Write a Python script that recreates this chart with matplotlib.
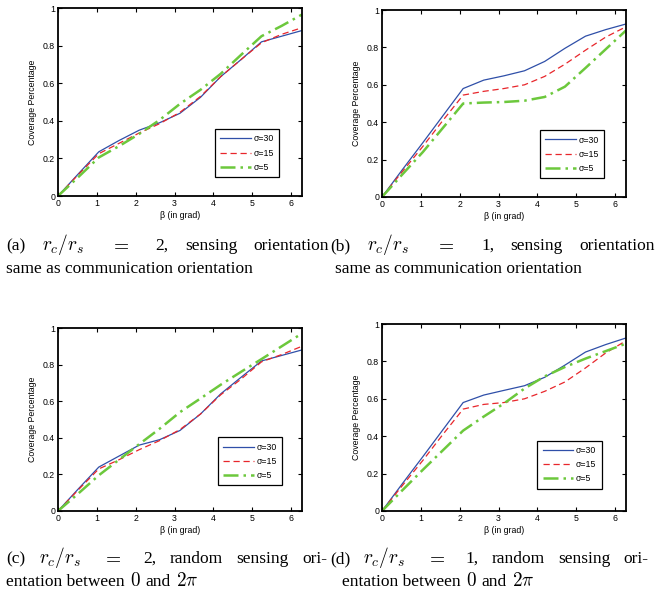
import matplotlib
matplotlib.use("Agg")
import matplotlib.pyplot as plt
import numpy as np

plt.rcParams['mathtext.fontset'] = 'cm'

W, H = 657, 592

# beta grid (rad)
beta = [0, 0.52, 1.05, 1.57, 2.09, 2.62, 3.14, 3.67, 4.19, 4.71, 5.24, 5.76, 6.28]
labels = ["σ=30", "σ=15", "σ=5"]

# (a) rc/rs = 2, same orientation
a_s30 = [0, 0.117, 0.235, 0.295, 0.35, 0.39, 0.44, 0.525, 0.635, 0.725, 0.82, 0.85, 0.88]
a_s15 = [0, 0.113, 0.225, 0.28, 0.335, 0.385, 0.445, 0.53, 0.635, 0.725, 0.815, 0.86, 0.895]
a_s5 = [0, 0.10, 0.205, 0.265, 0.33, 0.405, 0.49, 0.565, 0.65, 0.75, 0.85, 0.905, 0.965]
# (b) rc/rs = 1, same orientation
b_s30 = [0, 0.145, 0.29, 0.435, 0.58, 0.625, 0.648, 0.675, 0.725, 0.795, 0.86, 0.895, 0.925]
b_s15 = [0, 0.135, 0.27, 0.41, 0.545, 0.565, 0.58, 0.60, 0.645, 0.71, 0.785, 0.855, 0.91]
b_s5 = [0, 0.12, 0.24, 0.37, 0.50, 0.505, 0.508, 0.515, 0.535, 0.59, 0.69, 0.79, 0.89]
# (c) rc/rs = 2, random orientation
c_s30 = [0, 0.12, 0.24, 0.30, 0.36, 0.39, 0.44, 0.53, 0.64, 0.73, 0.82, 0.85, 0.88]
c_s15 = [0, 0.115, 0.23, 0.28, 0.335, 0.385, 0.445, 0.53, 0.635, 0.72, 0.815, 0.855, 0.90]
c_s5 = [0, 0.095, 0.195, 0.28, 0.365, 0.45, 0.54, 0.615, 0.69, 0.76, 0.83, 0.90, 0.97]
# (d) rc/rs = 1, random orientation
d_s30 = [0, 0.145, 0.29, 0.435, 0.58, 0.62, 0.645, 0.67, 0.715, 0.78, 0.85, 0.89, 0.925]
d_s15 = [0, 0.135, 0.27, 0.41, 0.545, 0.57, 0.58, 0.60, 0.64, 0.69, 0.765, 0.845, 0.91]
d_s5 = [0, 0.11, 0.22, 0.325, 0.43, 0.505, 0.575, 0.655, 0.72, 0.77, 0.815, 0.855, 0.895]

panels = [
    ((58, 8, 302, 196), (a_s30, a_s15, a_s5), (0.906, 0.10)),
    ((382, 10, 626, 197), (b_s30, b_s15, b_s5), (0.91, 0.10)),
    ((58, 328, 302, 511), (c_s30, c_s15, c_s5), (0.918, 0.14)),
    ((382, 324, 626, 511), (d_s30, d_s15, d_s5), (0.90, 0.12)),
]
colors = ['#2f4fa8', '#e8262b', '#6cc83c']
styles = ['-', (0, (5, 3)), (0, (6, 2, 1, 2))]
widths = [0.9, 0.9, 1.8]
sans = 'Liberation Sans'

fig = plt.figure(figsize=(W / 100, H / 100), dpi=100)

for (l, t, r, b), series, leg_pos in panels:
    ax = fig.add_axes([l / W, 1 - b / H, (r - l) / W, (b - t) / H])
    for ys, c, ls, lw, lab in zip(series, colors, styles, widths, labels):
        ax.plot(beta, ys, color=c, linestyle=ls, linewidth=lw, label=lab)
    ax.set_xlim(0, 2 * np.pi)
    ax.set_ylim(0, 1)
    ax.set_xticks(range(7))
    ax.set_yticks([0, 0.2, 0.4, 0.6, 0.8, 1])
    ax.set_yticklabels(["0", "0.2", "0.4", "0.6", "0.8", "1"])
    ax.tick_params(direction='in', top=True, right=True, length=3, width=0.8,
                   labelsize=6.3, pad=2)
    for lbl in ax.get_xticklabels() + ax.get_yticklabels():
        lbl.set_family(sans)
    for s in ax.spines.values():
        s.set_linewidth(1.3)
    ax.set_xlabel("β (in grad)", fontsize=6.3, family=sans, labelpad=2)
    ax.set_ylabel("Coverage Percentage", fontsize=6.3, family=sans, labelpad=4)
    leg = ax.legend(loc='lower right', bbox_to_anchor=leg_pos,
                    prop={'family': sans, 'size': 6.3}, handlelength=3.5,
                    labelspacing=0.6, borderpad=0.6, borderaxespad=0,
                    fancybox=False, edgecolor='black', framealpha=1,
                    handletextpad=0.3)
    leg.get_frame().set_linewidth(0.9)

FS = 12.5
renderer = fig.canvas.get_renderer()


def word(s, x, y, scale=1.0):
    return fig.text(x / W, 1 - y / H, s, fontsize=FS * scale,
                    family='Liberation Serif', va='baseline')


def justify(words, weights, x0, x1, ybase):
    texts = [word(w, x0, ybase, 1.12 if w.startswith('$') else 1.0) for w in words]
    ws = [tx.get_window_extent(renderer).width for tx in texts]
    unit = (x1 - x0 - sum(ws)) / sum(weights)
    x = x0
    for i, (tx, w) in enumerate(zip(texts, ws)):
        tx.set_x(x / W)
        x += w + (unit * weights[i] if i < len(weights) else 0)


def plain(words, x0, ybase, scale_math=1.0):
    x = x0
    sp = FS * 0.3 * 100 / 72
    for w in words:
        tx = word(w, x, ybase, scale_math if w.startswith('$') else 1.0)
        x += tx.get_window_extent(renderer).width + sp


gaps1 = [1, 1.6, 1.6, 1, 1]
gaps2 = [1, 1.6, 1.6, 1, 1, 1]
justify(["(a)", "$r_c/r_s$", "$=$", "2,", "sensing", "orientation"], gaps1, 6, 329, 250)
justify(["(b)", "$r_c/r_s$", "$=$", "1,", "sensing", "orientation"], gaps1, 330, 655, 250)
plain(["same as communication orientation"], 6, 273)
plain(["same as communication orientation"], 335, 273)

justify(["(c)", "$r_c/r_s$", "$=$", "2,", "random", "sensing", "ori-"], gaps2, 6, 327, 563)
justify(["(d)", "$r_c/r_s$", "$=$", "1,", "random", "sensing", "ori-"], gaps2, 330, 648, 563)
plain(["entation between", "$0$", "and", "$2\\pi$"], 6, 586, 1.1)
plain(["entation between", "$0$", "and", "$2\\pi$"], 342, 586, 1.1)

fig.savefig("out.png", dpi=100)
